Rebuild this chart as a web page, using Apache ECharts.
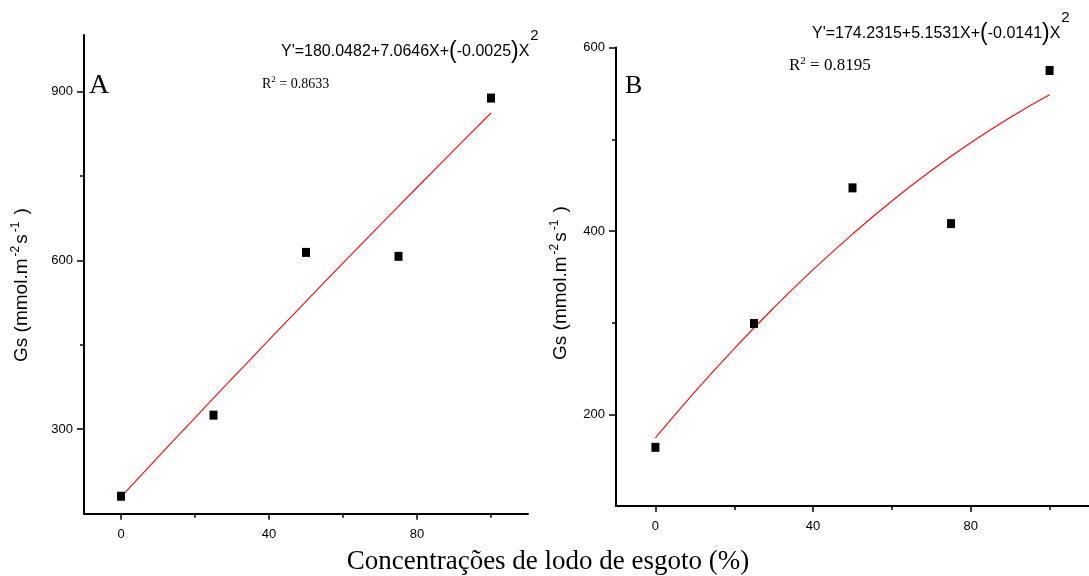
<!DOCTYPE html>
<html>
<head>
<meta charset="utf-8">
<script src="https://cdn.jsdelivr.net/npm/echarts@6/dist/echarts.min.js"></script>
<style>html,body{margin:0;padding:0;background:#fff}#c{width:1089px;height:576px}</style>
</head>
<body>
<div id="c"></div>
<script>
// ---- data ----
const doses = [0, 25, 50, 75, 100];
const gsA = [181, 325, 614, 607, 888];
const gsB = [164, 299, 447, 408, 575];
const fitX = [0, 10, 20, 30, 40, 50, 60, 70, 80, 90, 100];
const fitA = [180.0, 250.4, 320.3, 389.7, 458.6, 527.0, 594.9, 662.3, 729.2, 795.6, 861.5];
const fitB = [174.2, 224.4, 271.7, 316.1, 357.8, 396.6, 432.7, 465.9, 496.2, 523.8, 548.5];
const xMajorTicks = [0, 40, 80];
const xMinorTicks = [20, 60, 100];
const yMajorTicksA = [300, 600, 900];
const yMinorTicksA = [450, 750];
const yMajorTicksB = [200, 400, 600];
const yMinorTicksB = [300, 500];
const xTitle = 'Concentrações de lodo de esgoto (%)';
const eqA = ['Y\'=180.0482+7.0646X+', '-0.0025', '2'];
const eqB = ['Y\'=174.2315+5.1531X+', '-0.0141', '2'];
const r2A = '0.8633';
const r2B = '0.8195';

const SANS = 'Liberation Sans, Arial, sans-serif';
const SERIF = 'Liberation Serif, Times New Roman, serif';

function xAxes(grid) {
  return [
    { gridIndex: grid, type: 'value', min: -10, max: 110, position: 'bottom',
      axisLine: { onZero: false, lineStyle: { color: '#000', width: 2 } },
      axisTick: { customValues: xMajorTicks, length: 6, lineStyle: { color: '#000', width: 1.5 } },
      axisLabel: { customValues: xMajorTicks, margin: 14, fontSize: 13, color: '#000', fontFamily: SANS },
      splitLine: { show: false } },
    { gridIndex: grid, type: 'value', min: -10, max: 110, position: 'bottom',
      axisLine: { show: false, onZero: false },
      axisTick: { customValues: xMinorTicks, length: 4, lineStyle: { color: '#000', width: 1.5 } },
      axisLabel: { show: false }, splitLine: { show: false } }
  ];
}
function yAxes(grid, min, max, major, minor) {
  return [
    { gridIndex: grid, type: 'value', min: min, max: max, position: 'left',
      axisLine: { onZero: false, lineStyle: { color: '#000', width: 2 } },
      axisTick: { customValues: major, length: 7, lineStyle: { color: '#000', width: 1.5 } },
      axisLabel: { customValues: major, margin: 11, fontSize: 13, color: '#000', fontFamily: SANS },
      splitLine: { show: false } },
    { gridIndex: grid, type: 'value', min: min, max: max, position: 'left',
      axisLine: { show: false, onZero: false },
      axisTick: { customValues: minor, length: 4, lineStyle: { color: '#000', width: 1.5 } },
      axisLabel: { show: false }, splitLine: { show: false } }
  ];
}

function pairs(xs, ys) { return xs.map((x, i) => [x, ys[i]]); }

function eqText(parts, x, y) {
  return { type: 'text', x: x, y: y, z: 10,
    style: {
      text: '{m|' + parts[0] + '}{p|(}{m|' + parts[1] + '}{p|)}{m|X}{s|' + parts[2] + '}',
      align: 'left', verticalAlign: 'middle',
      rich: {
        m: { fontFamily: SANS, fontSize: 16, fill: '#000', color: '#000' },
        p: { fontFamily: SANS, fontSize: 23, fill: '#000', color: '#000' },
        s: { fontFamily: SANS, fontSize: 15, fill: '#000', color: '#000', padding: [0, 0, 32, 1] }
      }
    } };
}
function r2Text(val, x, y, size) {
  return { type: 'text', x: x, y: y, z: 10,
    style: {
      text: '{m|R}{s|2}{m| = ' + val + '}',
      align: 'left', verticalAlign: 'middle',
      rich: {
        m: { fontFamily: SERIF, fontSize: size, fill: '#000', color: '#000' },
        s: { fontFamily: SERIF, fontSize: Math.round(size * 0.62), fill: '#000', color: '#000', padding: [0, 0, Math.round(size * 0.6), 0] }
      }
    } };
}
function yTitle(x, y) {
  return { type: 'text', x: x, y: y, rotation: Math.PI / 2, z: 10,
    style: {
      text: '{m|Gs (mmol.m}{s|-2}{m|s}{s|-1}{m| )}',
      align: 'center', verticalAlign: 'middle',
      rich: {
        m: { fontFamily: SANS, fontSize: 19, fill: '#000', color: '#000' },
        s: { fontFamily: SANS, fontSize: 12, fill: '#000', color: '#000', padding: [0, 2, 13, 2] }
      }
    } };
}

const chart = echarts.init(document.getElementById('c'), null, { renderer: 'canvas' });
chart.setOption({
  animation: false,
  backgroundColor: '#fff',
  grid: [
    { left: 84, width: 444, top: 35, height: 478.7 },
    { left: 616, width: 474.7, top: 47.6, height: 458.4 }
  ],
  xAxis: xAxes(0).concat(xAxes(1)),
  yAxis: yAxes(0, 150, 1000, yMajorTicksA, yMinorTicksA).concat(yAxes(1, 100, 600, yMajorTicksB, yMinorTicksB)),
  series: [
    { type: 'line', xAxisIndex: 0, yAxisIndex: 0, data: pairs(fitX, fitA), showSymbol: false, smooth: true,
      lineStyle: { color: '#ff0000', width: 1.1 }, z: 2 },
    { type: 'scatter', xAxisIndex: 0, yAxisIndex: 0, data: pairs(doses, gsA), symbol: 'rect', symbolSize: [8, 9],
      itemStyle: { color: '#000', opacity: 1 }, z: 3 },
    { type: 'line', xAxisIndex: 2, yAxisIndex: 2, data: pairs(fitX, fitB), showSymbol: false, smooth: true,
      lineStyle: { color: '#ff0000', width: 1.1 }, z: 2 },
    { type: 'scatter', xAxisIndex: 2, yAxisIndex: 2, data: pairs(doses, gsB), symbol: 'rect', symbolSize: [8, 9],
      itemStyle: { color: '#000', opacity: 1 }, z: 3 }
  ],
  graphic: [
    eqText(eqA, 281, 52),
    eqText(eqB, 812, 34),
    r2Text(r2A, 262, 84, 14),
    r2Text(r2B, 789, 66, 17),
    { type: 'text', x: 89, y: 86, z: 10, style: { text: 'A', fontFamily: SERIF, fontSize: 28, fill: '#000', align: 'left', verticalAlign: 'middle' } },
    { type: 'text', x: 625, y: 86, z: 10, style: { text: 'B', fontFamily: SERIF, fontSize: 26, fill: '#000', align: 'left', verticalAlign: 'middle' } },
    yTitle(22, 285),
    yTitle(561, 283),
    { type: 'text', x: 548, y: 562, z: 10, style: { text: xTitle, fontFamily: SERIF, fontSize: 27, fill: '#000', align: 'center', verticalAlign: 'middle' } }
  ]
});
</script>
</body>
</html>
